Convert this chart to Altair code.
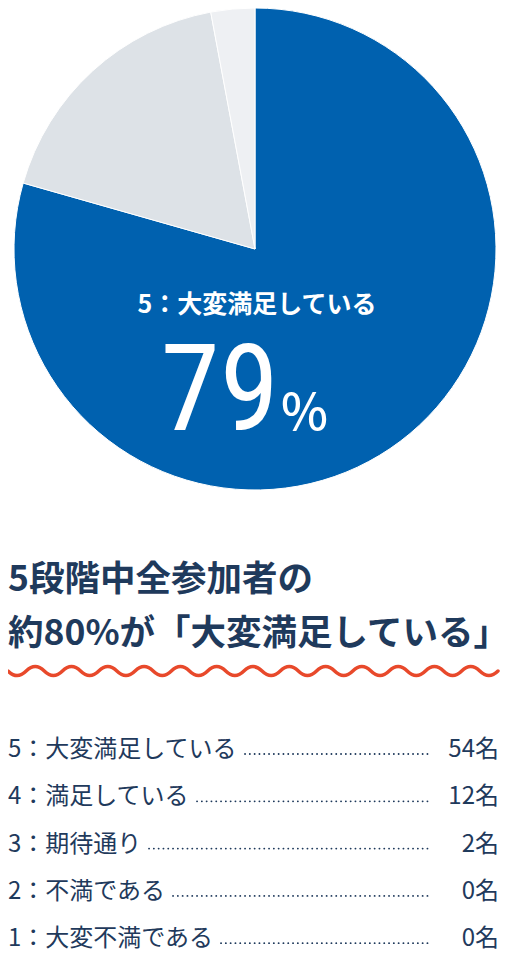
import altair as alt
import pandas as pd

# ---- data ----
labels = ["5：大変満足している", "4：満足している", "3：期待通り", "2：不満である", "1：大変不満である"]
counts = [54, 12, 2, 0, 0]
unit = "名"
slice_colors = ["#0061af", "#dde2e7", "#eef0f3", "#f3f4f6", "#f7f8f9"]
title_lines = ["5段階中全参加者の", "約80%が「大変満足している」"]

NAVY = "#1f3a5c"
RED = "#e8492b"
FONT = "Noto Sans CJK JP"
NUMFONT = "Roboto Condensed, Liberation Sans Narrow, Roboto"

df = pd.DataFrame({
    "idx": list(range(len(labels))),
    "label": labels,
    "count": counts,
    "value": [f"{c}{unit}" for c in counts],
})
total = sum(counts)
pct = round(counts[0] / total * 100)
pct_df = pd.DataFrame({"pct": [str(pct)], "sign": ["%"]})
title_df = pd.DataFrame({"i": list(range(len(title_lines))), "line": title_lines})
one = pd.DataFrame({"k": [0]})

W, H = 492, 950
R = 241
CX, CY = 247, 241

pie = alt.Chart(df).transform_filter("datum.count > 0").mark_arc(
    radius=R, stroke="white", strokeWidth=1
).encode(
    theta=alt.Theta("count:Q", stack=True),
    color=alt.Color("label:N", scale=alt.Scale(domain=labels, range=slice_colors), legend=None),
    order=alt.Order("idx:Q"),
    x=alt.value(CX),
    y=alt.value(CY),
)

inner_label = alt.Chart(df).transform_filter("datum.idx == 0").mark_text(
    font=FONT, fontSize=25, fontWeight="bold", color="white", align="center", baseline="middle"
).encode(text="label:N", x=alt.value(249), y=alt.value(297))

big = alt.Chart(pct_df).mark_text(
    font=NUMFONT, fontSize=120, fontWeight=400, color="white", align="right", baseline="alphabetic"
).encode(text="pct:N", x=alt.value(271), y=alt.value(422))

sign = alt.Chart(pct_df).mark_text(
    font=FONT, fontSize=50, fontWeight=500, color="white", align="left", baseline="alphabetic"
).encode(text="sign:N", x=alt.value(273), y=alt.value(422))

title = alt.Chart(title_df).transform_calculate(yy="572 + datum.i * 54").mark_text(
    font=FONT, fontSize=35.5, fontWeight="bold", color=NAVY, align="left", baseline="middle"
).encode(text="line:N", x=alt.value(0), y=alt.Y("yy:Q", scale=None))

half = 2 / 27
ctrl = 0.0366
segs = []
for k in range(27):
    sgn = 1 if k % 2 == 0 else -1
    segs.append(f"q{half/2:.5f},{sgn*ctrl:.5f} {half:.5f},0")
wave_path = "M-1,0 " + " ".join(segs)

wave = alt.Chart(one).mark_point(
    shape=wave_path, size=490 ** 2, filled=False, stroke=RED, strokeWidth=3.5,
    opacity=1, strokeCap="round", strokeJoin="round"
).encode(x=alt.value(245), y=alt.value(663))

rows = alt.Chart(df).transform_calculate(
    ty="742 + datum.idx * 47.3",
    lx="13 + 24 + (length(datum.label) - 2) * 24 + 8",
)

label_layer = rows.mark_text(
    align="left", baseline="middle", font=FONT, fontSize=24, color=NAVY
).encode(text="label:N", x=alt.value(0), y=alt.Y("ty:Q", scale=None))

leader = rows.mark_rule(
    strokeDash=[0.1, 4.7], strokeCap="round", strokeWidth=1.8, color=NAVY, yOffset=4
).encode(x=alt.X("lx:Q", scale=None), x2=alt.value(423), y=alt.Y("ty:Q", scale=None))

value_layer = rows.mark_text(
    align="right", baseline="middle", font=FONT, fontSize=24, color=NAVY
).encode(text="value:N", x=alt.value(491), y=alt.Y("ty:Q", scale=None))

chart = alt.layer(
    pie, inner_label, big, sign, title, wave, label_layer, leader, value_layer
).properties(
    width=W, height=H, autosize=alt.AutoSizeParams(type="none"), padding=0
).configure_view(strokeWidth=0)

chart.save("out.html", embed_options={"renderer": "svg", "actions": False})
